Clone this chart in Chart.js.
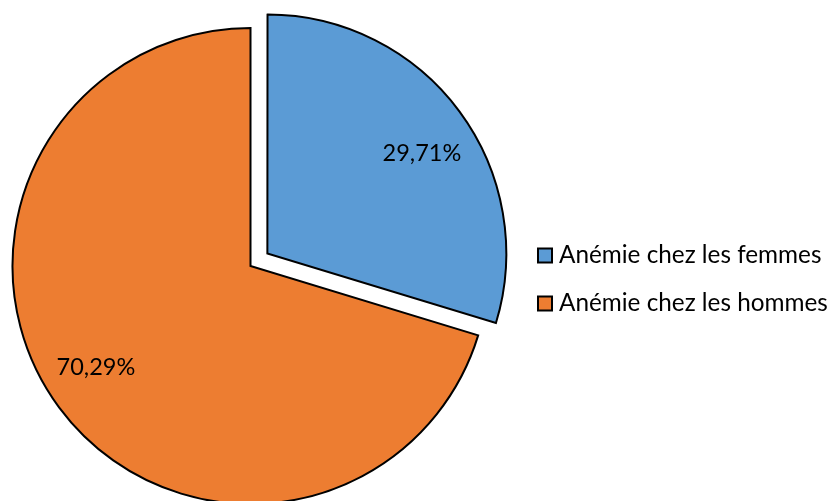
<!DOCTYPE html>
<html lang="fr">
<head>
<meta charset="utf-8">
<title>Anémie</title>
<script src="https://cdn.jsdelivr.net/npm/chart.js@4"></script>
<style>
    body { margin: 0; background: #fff; }
    #caixa { width: 837px; height: 501px; position: relative; }
</style>
</head>
<body>
<div id="caixa"><canvas id="myChart"></canvas></div>
<script>
// Dados do gráfico
const categorias = ['Anémie chez les femmes', 'Anémie chez les hommes'];
const valores = [29.71, 70.29];
const cores = ['#5B9BD5', '#ED7D31'];
const destaque = [84, 0]; // Chart.js desloca offset/4 -> 21px

const fonte = 'Lato, "Liberation Sans", sans-serif';

function formatarPct(v) {
    return v.toFixed(2).replace('.', ',') + '%';
}

// Rótulos de porcentagem dentro das fatias
const rotulosPlugin = {
    id: 'rotulos',
    afterDatasetsDraw(chart) {
        const ctx = chart.ctx;
        const meta = chart.getDatasetMeta(0);
        ctx.save();
        ctx.font = '23.5px ' + fonte;
        ctx.fillStyle = '#000';
        ctx.textAlign = 'center';
        ctx.textBaseline = 'middle';
        meta.data.forEach(function (arc, i) {
            const p = arc.getProps(['x', 'y', 'startAngle', 'endAngle', 'outerRadius'], true);
            const meio = (p.startAngle + p.endAngle) / 2;
            const desl = (arc.options.offset || 0) / 4;
            const cx = p.x + Math.cos(meio) * desl;
            const cy = p.y + Math.sin(meio) * desl;
            const ang = meio + 0.06;
            const r = p.outerRadius * 0.775;
            ctx.fillText(formatarPct(valores[i]), cx + Math.cos(ang) * r, cy + Math.sin(ang) * r + 1);
        });
        ctx.restore();
    }
};

// Legenda desenhada à direita
const legendaPlugin = {
    id: 'legendaLado',
    afterDraw(chart) {
        const ctx = chart.ctx;
        ctx.save();
        ctx.font = '24.3px ' + fonte;
        ctx.textBaseline = 'middle';
        chart.data.labels.forEach(function (nome, i) {
            const y = 255.5 + i * 48;
            ctx.fillStyle = cores[i];
            ctx.fillRect(538, y - 7, 14, 14);
            ctx.strokeStyle = '#000';
            ctx.lineWidth = 2;
            ctx.strokeRect(538, y - 7, 14, 14);
            ctx.fillStyle = '#000';
            ctx.fillText(nome, 559, y);
        });
        ctx.restore();
    }
};

let dados = {
    labels: categorias,
    datasets: [{
        data: valores,
        backgroundColor: cores,
        borderColor: '#000',
        borderWidth: 2,
        borderJoinStyle: 'miter',
        offset: destaque,
        radius: 238,
        clip: false
    }]
};

const config = {
    type: 'pie',
    data: dados,
    options: {
        responsive: true,
        maintainAspectRatio: false,
        animation: false,
        layout: {
            padding: { left: 0, right: 336, top: 31, bottom: 0 }
        },
        plugins: {
            legend: { display: false },
            tooltip: { enabled: false }
        }
    },
    plugins: [rotulosPlugin, legendaPlugin]
};

let myChart = new Chart(document.getElementById('myChart'), config);
</script>
</body>
</html>
